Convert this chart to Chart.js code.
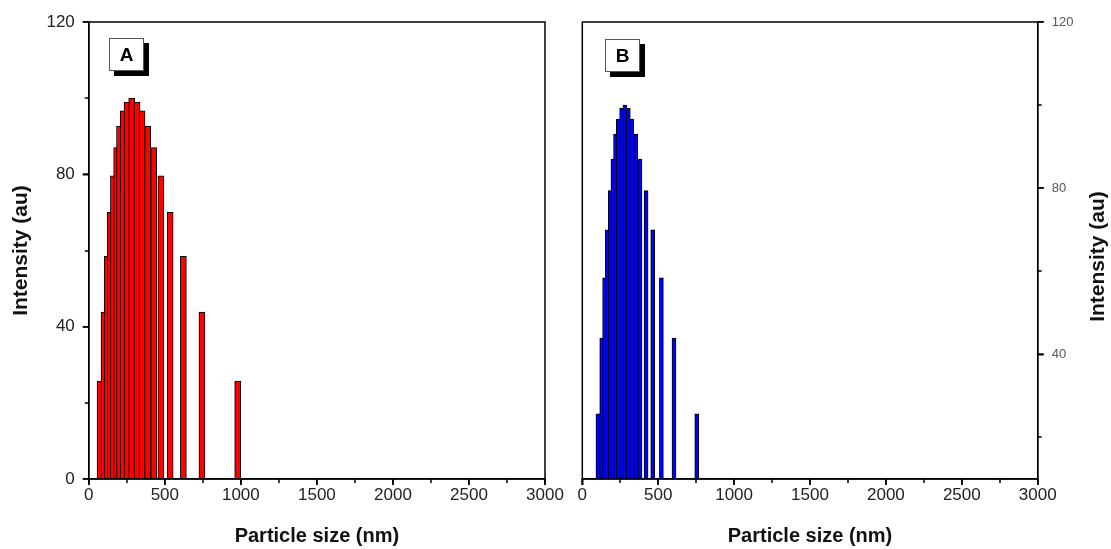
<!DOCTYPE html>
<html>
<head>
<meta charset="utf-8">
<script src="https://cdn.jsdelivr.net/npm/chart.js@4"></script>
<style>
  body { margin: 0; background: #fff; }
  #wrap { position: relative; width: 1111px; height: 549px; overflow: hidden; }
  canvas { position: absolute; top: 0; }
  #chart_a { left: 0; }
  #chart_b { left: 560px; }
  .tag {
    position: absolute; width: 33px; height: 31px;
    border: 1px solid #555; background: #fff;
    box-shadow: 5px 5px 0 #000;
    font: bold 19px 'Liberation Sans', Arial, sans-serif;
    text-align: center; line-height: 31px; color: #000;
  }
  #tag_a { left: 109px; top: 38px; }
  #tag_b { left: 605px; top: 39px; }
</style>
</head>
<body>
<div id="wrap">
  <canvas id="chart_a" width="590" height="549"></canvas>
  <canvas id="chart_b" width="551" height="549"></canvas>
  <div class="tag" id="tag_a">A</div>
  <div class="tag" id="tag_b">B</div>
</div>
<script>
// particle size bins (nm) and intensity
var size_a = [74, 100, 121, 141, 162, 183, 202, 226, 252, 282, 317, 350, 387, 427, 474, 535, 622, 744, 979];
var intensity_a = [25.7, 43.8, 58.5, 70, 79.6, 87, 92.7, 96.7, 99, 100, 99, 96.7, 92.7, 87, 79.6, 70, 58.5, 43.8, 25.7];

var size_b = [103, 128, 147, 165, 184, 202, 219, 237, 259, 281, 303, 325, 352, 380, 420, 464, 521, 604, 754];
var intensity_b = [25.7, 43.9, 58.4, 70, 79.4, 87, 93, 96.6, 99.2, 100, 99.2, 96.6, 93, 87, 79.4, 70, 58.4, 43.9, 25.7];

var x_ticks = [0, 500, 1000, 1500, 2000, 2500, 3000];
var x_minor = [250, 750, 1250, 1750, 2250, 2750];
var y_ticks_a = [0, 40, 80, 120];
var y_ticks_b = [40, 80, 120];
var y_minor = [20, 60, 100];

var font_family = "'Liberation Sans', Arial, sans-serif";

to_points = function(xs, ys)
{
  var pts = [];
  for (var i = 0; i < xs.length; i++)
  {
    pts.push({x: xs[i], y: ys[i]});
  }
  return pts;
};

set_ticks = function(values)
{
  return function(scale) {
    scale.ticks = values.map(function(v) { return {value: v}; });
  };
};

plain_label = function(value)
{
  return String(value);
};

// tick marks (major 6px, minor 4px) + closed frame round the plot area
var frame_plugin = {
  id: 'frame',
  afterDraw: function(chart, args, opts)
  {
    var ctx = chart.ctx, area = chart.chartArea;
    var sx = chart.scales.x, sy = chart.scales.y;

    var x_mark = function(v, len) {
      var px = Math.round(sx.getPixelForValue(v));
      ctx.moveTo(px, area.bottom);
      ctx.lineTo(px, area.bottom + len);
    };
    var y_mark = function(v, len) {
      if (v < sy.min) return;
      var py = Math.round(sy.getPixelForValue(v));
      var x0 = opts.side === 'left' ? area.left : area.right;
      var dir = opts.side === 'left' ? -1 : 1;
      ctx.moveTo(x0, py);
      ctx.lineTo(x0 + dir * len, py);
    };

    ctx.save();
    ctx.strokeStyle = '#000';
    ctx.lineWidth = 1.5;
    ctx.beginPath();
    opts.x_major.forEach(function(v) { x_mark(v, 6); });
    opts.x_minor.forEach(function(v) { x_mark(v, 4); });
    opts.y_major.forEach(function(v) { y_mark(v, 6); });
    opts.y_minor.forEach(function(v) { y_mark(v, 4); });
    ctx.stroke();
    ctx.strokeRect(area.left, area.top, area.right - area.left, area.bottom - area.top);

    if (opts.side_title)
    {
      ctx.fillStyle = '#111';
      ctx.font = 'bold 21px ' + font_family;
      ctx.textAlign = 'center';
      ctx.textBaseline = 'middle';
      ctx.translate(opts.side_title_x, (area.top + area.bottom) / 2 + 6);
      ctx.rotate(-Math.PI / 2);
      ctx.fillText(opts.side_title, 0, 0);
    }
    ctx.restore();
  }
};

build_chart = function(canvas_id, sizes, values, fill, thickness, y_min, y_ticks, side, padding, y_width)
{
  var ctx = document.getElementById(canvas_id).getContext('2d');
  var y_axis = {
    type: 'linear',
    position: side,
    min: y_min,
    max: 120,
    afterBuildTicks: set_ticks(y_ticks),
    afterFit: function(scale) { scale.width = y_width; },
    grid: { drawOnChartArea: false, drawTicks: true, tickLength: 6, color: '#000', lineWidth: 1.5 },
    border: { display: true, color: '#000', width: 1.5 },
    ticks: side === 'left'
      ? { color: '#222', padding: 8, callback: plain_label, font: { family: font_family, size: 17 } }
      : { color: '#555', padding: 8, callback: plain_label, font: { family: font_family, size: 13 } },
    title: side === 'left'
      ? { display: true, text: 'Intensity (au)', color: '#111', padding: { top: 9, bottom: 0 },
          font: { family: font_family, size: 21, weight: 'bold' } }
      : { display: false }
  };

  return new Chart(ctx, {
    type: 'bar',
    data: {
      datasets: [{
        data: to_points(sizes, values),
        backgroundColor: fill,
        borderColor: '#000',
        borderWidth: 1,
        barThickness: thickness
      }]
    },
    options: {
      responsive: false,
      animation: false,
      layout: { padding: padding },
      plugins: {
        legend: { display: false },
        tooltip: { enabled: false },
        frame: {
          x_major: x_ticks,
          x_minor: x_minor,
          y_major: y_ticks,
          y_minor: y_minor,
          side: side,
          side_title: side === 'right' ? 'Intensity (au)' : null,
          side_title_x: 538
        }
      },
      scales: {
        x: {
          type: 'linear',
          min: 0,
          max: 3000,
          offset: false,
          afterBuildTicks: set_ticks(x_ticks),
          afterFit: function(scale) { scale.height = 70; },
          grid: { offset: false, drawOnChartArea: false, drawTicks: true, tickLength: 6, color: '#000', lineWidth: 1.5 },
          border: { display: true, color: '#000', width: 1.5 },
          ticks: { color: '#222', padding: 0, maxRotation: 0, callback: plain_label, font: { family: font_family, size: 17 } },
          title: { display: true, text: 'Particle size (nm)', color: '#111', padding: { top: 0, bottom: 1 },
                   font: { family: font_family, size: 20, weight: 'bold' } }
        },
        y: y_axis
      }
    },
    plugins: [frame_plugin]
  });
};

build_chart('chart_a', size_a, intensity_a, '#ff0000', 6, 0, y_ticks_a, 'left',
            { top: 22, right: 45, left: 0, bottom: 0 }, 88.8);
build_chart('chart_b', size_b, intensity_b, '#0000ff', 4, 10, y_ticks_b, 'right',
            { top: 22, right: 0, left: 22.3, bottom: 0 }, 73.3);
</script>
</body>
</html>
